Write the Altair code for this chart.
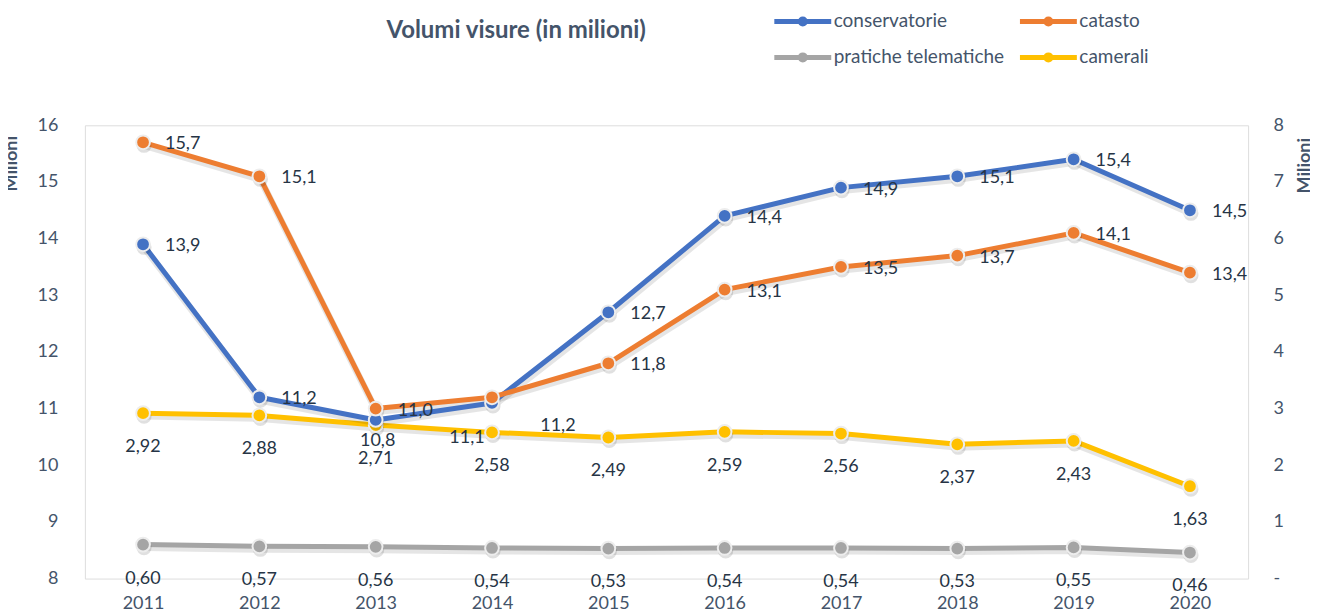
import altair as alt
import pandas as pd

years = ["2011", "2012", "2013", "2014", "2015", "2016", "2017", "2018", "2019", "2020"]
conservatorie = [13.9, 11.2, 10.8, 11.1, 12.7, 14.4, 14.9, 15.1, 15.4, 14.5]
catasto = [15.7, 15.1, 11.0, 11.2, 11.8, 13.1, 13.5, 13.7, 14.1, 13.4]
pratiche = [0.60, 0.57, 0.56, 0.54, 0.53, 0.54, 0.54, 0.53, 0.55, 0.46]
camerali = [2.92, 2.88, 2.71, 2.58, 2.49, 2.59, 2.56, 2.37, 2.43, 1.63]

series_names = ["conservatorie", "catasto", "pratiche telematiche", "camerali"]
series_colors = ["#4472C4", "#ED7D31", "#A5A5A5", "#FFC000"]

FONT = "Lato"
TXT = "#44546A"
LBL = "#263445"
FS = 18


def frame(name, vals, dec):
    return pd.DataFrame({
        "year": years,
        "serie": name,
        "value": vals,
        "label": [f"{v:.{dec}f}".replace(".", ",") for v in vals],
    })


left_df = pd.concat([frame("conservatorie", conservatorie, 1), frame("catasto", catasto, 1)])
right_df = pd.concat([frame("pratiche telematiche", pratiche, 2), frame("camerali", camerali, 2)])

color = alt.Color(
    "serie:N",
    scale=alt.Scale(domain=series_names, range=series_colors),
    legend=alt.Legend(
        title=None, orient="none", legendX=688, legendY=-118, columns=2, direction="horizontal",
        symbolType="M-1,0H1M-0.088,0A0.088,0.088,0,1,1,0.088,0A0.088,0.088,0,1,1,-0.088,0Z",
        symbolSize=3249, symbolStrokeWidth=5, labelFont=FONT, labelFontSize=19,
        labelColor=TXT, labelOffset=0, labelLimit=400, columnPadding=13, rowPadding=8,
        clipHeight=28,
    ),
)
color_nolegend = alt.Color("serie:N", scale=alt.Scale(domain=series_names, range=series_colors), legend=None)

x = alt.X(
    "year:O",
    scale=alt.Scale(type="point", padding=0.5),
    axis=alt.Axis(title=None, labelAngle=0, domain=False, ticks=False, labelPadding=16,
                  labelFont=FONT, labelFontSize=FS, labelColor=TXT, grid=False),
)

yl = alt.Y(
    "value:Q",
    scale=alt.Scale(domain=[8, 16], nice=False, zero=False),
    axis=alt.Axis(title="Milioni", values=list(range(8, 17)), orient="left", domain=False, ticks=False,
                  labelPadding=27, labelFont=FONT, labelFontSize=FS, labelColor=TXT,
                  gridColor="#DCE1E8", gridWidth=1.5,
                  titleFont=FONT, titleFontSize=18, titleColor=TXT, titleFontWeight="bold",
                  titleAngle=-90, titleX=-64, titleY=38, titleBaseline="bottom", titleAlign="center"),
)
yr = alt.Y(
    "value:Q",
    scale=alt.Scale(domain=[0, 8], nice=False),
    axis=alt.Axis(title="Milioni", values=list(range(0, 9)), orient="right", domain=False, ticks=False,
                  grid=False, labelPadding=25, labelFont=FONT, labelFontSize=FS, labelColor=TXT,
                  labelExpr="datum.value == 0 ? '-' : datum.label",
                  titleFont=FONT, titleFontSize=18, titleColor=TXT, titleFontWeight="bold",
                  titleAngle=-90, titleX=66, titleY=40, titleBaseline="bottom", titleAlign="center"),
)


def group(df, y, labels):
    base = alt.Chart(df)
    shadow = base.mark_line(strokeWidth=7, strokeJoin="round", color="#000000", opacity=0.10,
                            yOffset=3, xOffset=1).encode(x=x, y=y, detail="serie:N")
    line = base.mark_line(strokeWidth=5, strokeJoin="round").encode(x=x, y=y, color=color)
    pshadow = base.mark_point(filled=True, size=230, color="#000000", opacity=0.12,
                              yOffset=3, xOffset=1).encode(x=x, y=y)
    pts = base.mark_point(filled=True, size=190, stroke="#EDEDED", strokeWidth=2, opacity=1).encode(
        x=x, y=y, color=color_nolegend)
    return [shadow, line, pshadow, pts] + labels


def txt(df, dx, dy, align="center"):
    return alt.Chart(df).mark_text(
        font=FONT, fontSize=FS, color=LBL, dx=dx, dy=dy, align=align, baseline="middle"
    ).encode(x=x, text="label:N")


cons = left_df[left_df.serie == "conservatorie"]
cat = left_df[left_df.serie == "catasto"]
special_cons = ["2013", "2014"]
left_labels = [
    txt(cons[~cons.year.isin(special_cons)], 22, 2, "left").encode(y=yl),
    txt(cons[cons.year == "2013"], 2, 21).encode(y=yl),
    txt(cons[cons.year == "2014"], -25, 35).encode(y=yl),
    txt(cat[cat.year != "2014"], 22, 2, "left").encode(y=yl),
    txt(cat[cat.year == "2014"], 66, 29).encode(y=yl),
]
right_labels = [
    txt(right_df, 0, 34).encode(y=yr),
]

left = alt.layer(*group(left_df, yl, left_labels))
right = alt.layer(*group(right_df, yr, right_labels))

chart = alt.layer(right, left).resolve_scale(y="independent").properties(
    width=1165, height=454,
    padding={"left": 77, "top": 117, "right": 62, "bottom": 34},
    autosize=alt.AutoSizeParams(type="none"),
    title=alt.TitleParams(
        "Volumi visure (in milioni)", anchor="start", frame="group", dx=302, offset=-36,
        font=FONT, fontSize=24, fontWeight="bold", color=TXT,
    ),
).configure_view(stroke="transparent", strokeWidth=0).configure(background="white")

chart.save("out.html", embed_options={"renderer": "svg", "actions": False})
